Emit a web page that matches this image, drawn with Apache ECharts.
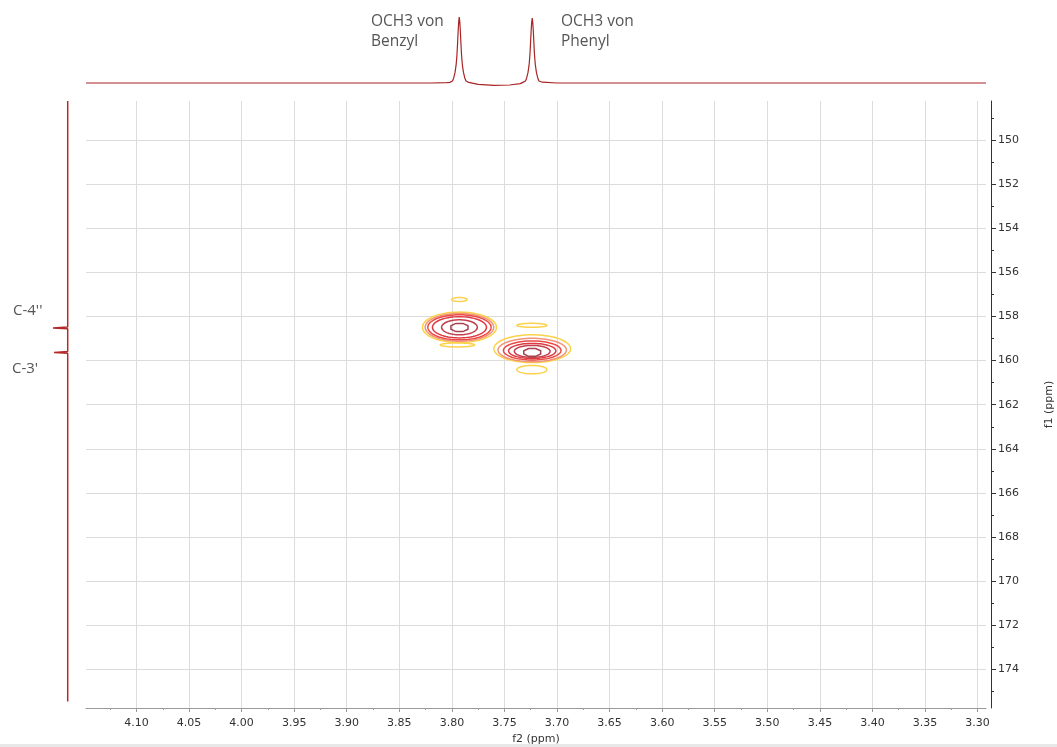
<!DOCTYPE html>
<html>
<head>
<meta charset="utf-8">
<script src="https://cdn.jsdelivr.net/npm/echarts@6/dist/echarts.min.js"></script>
<style>
  html, body { margin: 0; padding: 0; background: #ffffff; }
  #chart { width: 1057px; height: 747px; }
</style>
</head>
<body>
<div id="chart"></div>
<script>
// HMBC-style 2D spectrum: f2 (1H, ppm) against f1 (13C, ppm)

// Axis ranges (ppm)
const f2Range = [3.292, 4.148];
const f1Range = [148.23, 175.75];

// Tick labels
const f2TickValues = [4.10, 4.05, 4.00, 3.95, 3.90, 3.85, 3.80, 3.75, 3.70, 3.65, 3.60, 3.55, 3.50, 3.45, 3.40, 3.35, 3.30];
const f2MinorValues = [4.125, 4.075, 4.025, 3.975, 3.925, 3.875, 3.825, 3.775, 3.725, 3.675, 3.625, 3.575, 3.525, 3.475, 3.425, 3.375, 3.325];
const f1TickValues = [150, 152, 154, 156, 158, 160, 162, 164, 166, 168, 170, 172, 174];
const f1MinorValues = [149, 151, 153, 155, 157, 159, 161, 163, 165, 167, 169, 171, 173, 175];

// 1D proton projection along f2: [ppm, relative intensity]
const protonTrace = [
  [4.148, 0.0], [3.950, 0.0], [3.820, 0.0], [3.805, 0.005], [3.802, 0.01],
  [3.7994, 0.03], [3.7982, 0.08], [3.7970, 0.16], [3.7960, 0.27], [3.7952, 0.42],
  [3.7946, 0.6], [3.7940, 0.8], [3.7935, 0.93], [3.7930, 1.0],
  [3.7925, 0.93], [3.7920, 0.8], [3.7914, 0.6], [3.7908, 0.42], [3.7900, 0.27],
  [3.7890, 0.16], [3.7878, 0.08], [3.7866, 0.03], [3.784, 0.01],
  [3.775, -0.02], [3.760, -0.035], [3.745, -0.03], [3.735, -0.01],
  [3.7325, 0.01], [3.7300, 0.03], [3.7288, 0.08], [3.7276, 0.16], [3.7266, 0.27],
  [3.7258, 0.42], [3.7252, 0.6], [3.7246, 0.8], [3.7241, 0.92], [3.7236, 0.985],
  [3.7231, 0.92], [3.7226, 0.8], [3.7220, 0.6], [3.7214, 0.42], [3.7206, 0.27],
  [3.7196, 0.16], [3.7184, 0.08], [3.7172, 0.03], [3.714, 0.012],
  [3.700, 0.0], [3.292, 0.0]
];

// 1D carbon projection along f1: [relative intensity, ppm]
const carbonTrace = [
  [0, 148.23], [0, 158.48], [1.0, 158.52], [0, 158.56],
  [0, 159.59], [0.93, 159.63], [0, 159.67], [0, 175.45]
];

// Contour rings: [f2 centre, f1 centre, half-width f2, half-width f1, level]
const contourRings = [
  [3.7928, 158.49, 0.0352, 0.69, 0],
  [3.7928, 158.49, 0.0326, 0.63, 1],
  [3.7928, 158.49, 0.0301, 0.57, 2],
  [3.7928, 158.49, 0.0257, 0.48, 3],
  [3.7928, 158.49, 0.0170, 0.34, 4],
  [3.7928, 158.50, 0.0088, 0.20, 5],
  [3.7236, 159.46, 0.0365, 0.63, 0],
  [3.7236, 159.52, 0.0325, 0.53, 1],
  [3.7236, 159.54, 0.0274, 0.43, 2],
  [3.7236, 159.56, 0.0225, 0.34, 3],
  [3.7236, 159.58, 0.0170, 0.27, 4],
  [3.7236, 159.63, 0.0087, 0.19, 5]
];

// Weak lobes beside the cross peaks (lowest contour level)
const sideLobes = [
  [3.7929, 157.23, 0.0074, 0.09, 0],
  [3.7948, 159.29, 0.0163, 0.09, 0],
  [3.7239, 158.40, 0.0143, 0.09, 0],
  [3.7239, 160.41, 0.0143, 0.19, 0]
];

const levelColors = ['#fbd24c', '#f29478', '#ec4a46', '#de3a42', '#c23f4c', '#a4444f'];

const tickFont = { fontFamily: 'DejaVu Sans', fontSize: 11, color: '#333333' };
const gridColor = '#dcdcdc';

function renderRing(params, api) {
  const f2 = api.value(0), f1 = api.value(1);
  const hw2 = api.value(2), hw1 = api.value(3);
  const level = api.value(4);
  const c = api.coord([f2, f1]);
  const ex = api.coord([f2 - hw2, f1]);
  const ey = api.coord([f2, f1 - hw1]);
  const rx = Math.abs(ex[0] - c[0]);
  const ry = Math.abs(ey[1] - c[1]);
  const n = level === 5 ? 8 : 72;
  const off = level === 5 ? Math.PI / 8 : 0;
  const pts = [];
  for (let i = 0; i < n; i++) {
    const a = off + 2 * Math.PI * i / n;
    pts.push([c[0] + rx * Math.cos(a), c[1] + ry * Math.sin(a)]);
  }
  return {
    type: 'polygon',
    shape: { points: pts },
    style: { fill: 'none', stroke: levelColors[level], lineWidth: 1.5 }
  };
}

const chart = echarts.init(document.getElementById('chart'), null, { renderer: 'canvas' });

chart.setOption({
  animation: false,
  backgroundColor: '#ffffff',
  grid: [
    { left: 86, top: 101, width: 900, height: 607, outerBoundsMode: 'none', containLabel: false },   // 2D map
    { left: 86, top: 17, width: 900, height: 72.6, outerBoundsMode: 'none', containLabel: false },   // top projection
    { left: 53, top: 101, width: 14.7, height: 607, outerBoundsMode: 'none', containLabel: false }   // side projection
  ],
  xAxis: [
    {
      gridIndex: 0, type: 'value', min: f2Range[0], max: f2Range[1], inverse: true,
      position: 'bottom',
      name: 'f2 (ppm)', nameLocation: 'middle', nameGap: 25,
      nameTextStyle: tickFont,
      axisLine: { show: true, lineStyle: { color: '#9a9a9a', width: 1 } },
      axisTick: { show: true, length: 4, customValues: f2TickValues, lineStyle: { color: '#9a9a9a' } },
      axisLabel: { customValues: f2TickValues, margin: 10, formatter: v => v.toFixed(2), ...tickFont },
      splitLine: { show: true, lineStyle: { color: gridColor, width: 1 } }
    },
    {
      gridIndex: 0, type: 'value', min: f2Range[0], max: f2Range[1], inverse: true,
      position: 'bottom',
      axisLine: { show: false },
      axisTick: { show: true, length: 2, customValues: f2MinorValues, lineStyle: { color: '#9a9a9a' } },
      axisLabel: { show: false },
      splitLine: { show: false }
    },
    {
      gridIndex: 1, type: 'value', min: f2Range[0], max: f2Range[1], inverse: true, show: false
    },
    {
      gridIndex: 2, type: 'value', min: 0, max: 1, inverse: true, show: false
    }
  ],
  yAxis: [
    {
      gridIndex: 0, type: 'value', min: f1Range[0], max: f1Range[1], inverse: true,
      position: 'right', offset: 5,
      name: 'f1 (ppm)', nameLocation: 'middle', nameGap: 53, nameRotate: 90,
      nameTextStyle: tickFont,
      axisLine: { show: true, lineStyle: { color: '#333333', width: 1 } },
      axisTick: { show: true, length: 5, customValues: f1TickValues, lineStyle: { color: '#333333' } },
      axisLabel: { customValues: f1TickValues, margin: 7, ...tickFont },
      splitLine: { show: true, lineStyle: { color: gridColor, width: 1 } }
    },
    {
      gridIndex: 0, type: 'value', min: f1Range[0], max: f1Range[1], inverse: true,
      position: 'right', offset: 5,
      axisLine: { show: false },
      axisTick: { show: true, length: 3, customValues: f1MinorValues, lineStyle: { color: '#333333' } },
      axisLabel: { show: false },
      splitLine: { show: false }
    },
    {
      gridIndex: 1, type: 'value', min: -0.1, max: 1.0, show: false
    },
    {
      gridIndex: 2, type: 'value', min: f1Range[0], max: f1Range[1], inverse: true, show: false
    }
  ],
  series: [
    {
      type: 'custom', name: 'contours', xAxisIndex: 0, yAxisIndex: 0,
      renderItem: renderRing, data: contourRings, clip: true, silent: true
    },
    {
      type: 'custom', name: 'lobes', xAxisIndex: 0, yAxisIndex: 0,
      renderItem: renderRing, data: sideLobes, clip: true, silent: true
    },
    {
      type: 'line', name: '1H', xAxisIndex: 2, yAxisIndex: 2,
      data: protonTrace, showSymbol: false, silent: true,
      lineStyle: { color: '#a82424', width: 1.2 }
    },
    {
      type: 'line', name: '13C', xAxisIndex: 3, yAxisIndex: 3,
      data: carbonTrace, showSymbol: false, silent: true,
      lineStyle: { color: '#b42a2a', width: 1.5 }
    }
  ],
  graphic: [
    { type: 'text', left: 371, top: 12, style: { text: 'OCH3 von\nBenzyl', font: '15.5px "Open Sans"', fill: '#555555', lineHeight: 20 } },
    { type: 'text', left: 561, top: 12, style: { text: 'OCH3 von\nPhenyl', font: '15.5px "Open Sans"', fill: '#555555', lineHeight: 20 } },
    { type: 'text', left: 13, top: 301, style: { text: "C-4''", font: '15px "Open Sans"', fill: '#555555', lineHeight: 20 } },
    { type: 'text', left: 12, top: 359, style: { text: "C-3'", font: '15px "Open Sans"', fill: '#555555', lineHeight: 20 } },
    { type: 'rect', left: 0, top: 744, shape: { width: 1057, height: 3 }, style: { fill: '#e8e8e8' }, silent: true }
  ]
});
</script>
</body>
</html>
